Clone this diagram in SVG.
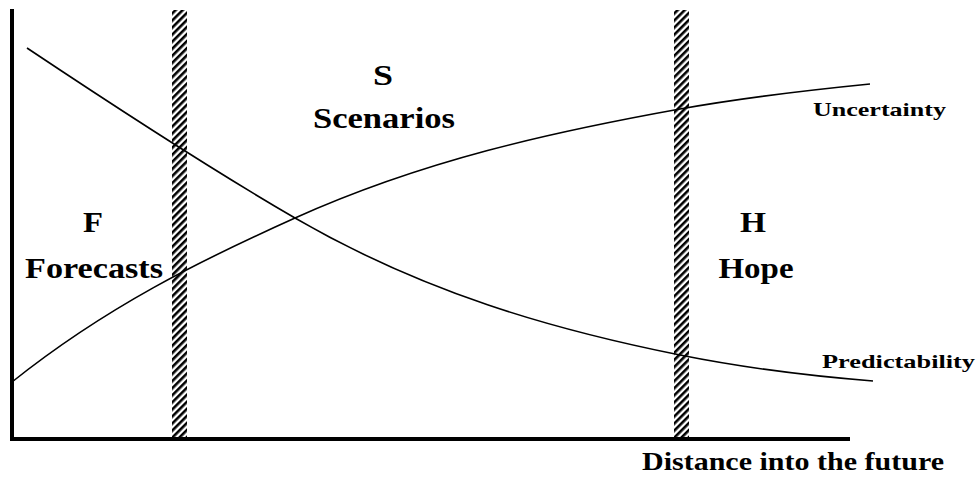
<svg xmlns="http://www.w3.org/2000/svg" width="979" height="483" viewBox="0 0 979 483">
<style>
.lbl{font-family:"Liberation Serif",serif;font-weight:bold;fill:#000}
.big{font-size:29px}
.small{font-size:19px}
.curve{fill:none;stroke:#000;stroke-width:1.6}
.axis{fill:none;stroke:#000;stroke-width:4}
</style>
<defs>
<pattern id="hatch" patternUnits="userSpaceOnUse" width="5" height="5" patternTransform="rotate(45)">
<rect width="5" height="5" fill="#fff"/>
<rect width="2.6" height="5" fill="#000"/>
</pattern>
</defs>
<rect width="979" height="483" fill="#fff"/>
<g id="bars">
<rect id="bar-left" x="172" y="10" width="15" height="429" fill="url(#hatch)"/>
<rect id="bar-right" x="674" y="10" width="15" height="429" fill="url(#hatch)"/>
</g>
<g id="connectors">
<path id="predictability-curve" class="curve" d="M27,48 C116.3,107.6 205.7,166.2 295,218 C423.3,292.4 551.7,329.3 680,355 C744.3,367.9 808.7,375.9 873,381"/>
<path id="uncertainty-curve" class="curve" d="M12,382 C106.3,306.6 200.7,260.4 295,218 C423.3,160.3 551.7,132.1 680,109 C743.3,97.6 806.7,90.3 870,84"/>
<path id="axes" class="axis" d="M12,9 L12,439 L850,439"/>
</g>
<g id="region-f"><text class="lbl big" x="93" y="232" text-anchor="middle" textLength="20" lengthAdjust="spacingAndGlyphs">F</text><text class="lbl big" x="94" y="278" text-anchor="middle" textLength="138" lengthAdjust="spacingAndGlyphs">Forecasts</text></g>
<g id="region-s"><text class="lbl big" x="383" y="85" text-anchor="middle" textLength="20" lengthAdjust="spacingAndGlyphs">S</text><text class="lbl big" x="384" y="128" text-anchor="middle" textLength="142" lengthAdjust="spacingAndGlyphs">Scenarios</text></g>
<g id="region-h"><text class="lbl big" x="753" y="232" text-anchor="middle" textLength="26" lengthAdjust="spacingAndGlyphs">H</text><text class="lbl big" x="756" y="278" text-anchor="middle" textLength="75" lengthAdjust="spacingAndGlyphs">Hope</text></g>
<text class="lbl small" x="813" y="116" textLength="133" lengthAdjust="spacingAndGlyphs">Uncertainty</text>
<text class="lbl small" x="822" y="368" textLength="153" lengthAdjust="spacingAndGlyphs">Predictability</text>
<text class="lbl" x="642" y="470" style="font-size:26px" textLength="302" lengthAdjust="spacingAndGlyphs">Distance into the future</text>
</svg>
